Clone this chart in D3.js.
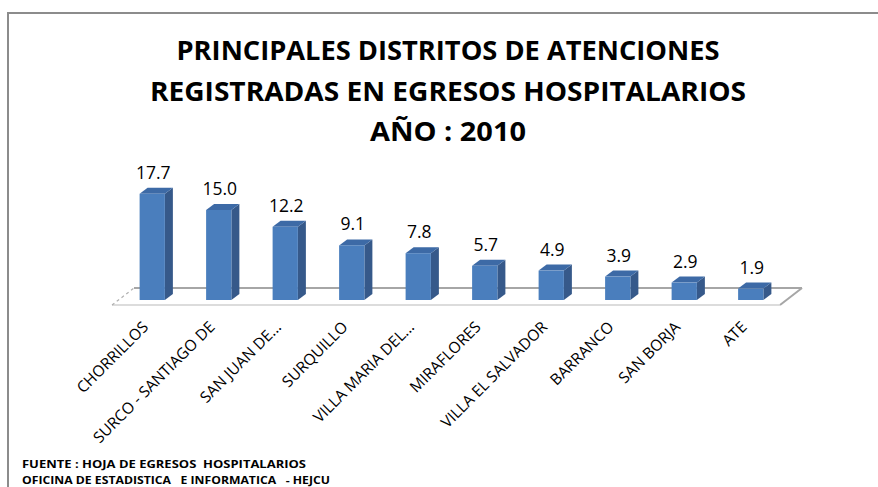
<!DOCTYPE html>
<html>
<head>
<meta charset="utf-8">
<script src="https://cdn.jsdelivr.net/npm/d3@7"></script>
<style>
  body { margin: 0; background: #fff; }
  svg { display: block; font-family: "Open Sans", "Liberation Sans", sans-serif; }
</style>
</head>
<body>
<div id="chart"></div>
<script>
// datos
const distritos = ['CHORRILLOS', 'SURCO - SANTIAGO DE', 'SAN JUAN DE...', 'SURQUILLO',
  'VILLA MARIA DEL...', 'MIRAFLORES', 'VILLA EL SALVADOR', 'BARRANCO', 'SAN BORJA', 'ATE'];
const porcentajes = [17.7, 15.0, 12.2, 9.1, 7.8, 5.7, 4.9, 3.9, 2.9, 1.9];
const titulo = ['PRINCIPALES DISTRITOS DE ATENCIONES', 'REGISTRADAS EN EGRESOS HOSPITALARIOS', 'AÑO : 2010'];
const fuente = ['FUENTE : HOJA DE EGRESOS  HOSPITALARIOS', 'OFICINA DE ESTADISTICA   E INFORMATICA   - HEJCU'];

const W = 878, H = 487;
const depth = { dx: 8, dy: -6 };
const floorDepth = { dx: 22, dy: -17 };

const svg = d3.select('#chart').append('svg')
  .attr('width', W).attr('height', H);

// marco
svg.append('path')
  .attr('d', `M8,${H} L8,13 L${W},13`)
  .attr('fill', 'none')
  .attr('stroke', '#8c8c8c')
  .attr('stroke-width', 2);

// titulo
const titleW = [543, 596, 156];
svg.append('g').selectAll('text')
  .data(titulo)
  .join('text')
  .attr('x', 448)
  .attr('y', (d, i) => 60 + i * 40.5)
  .attr('text-anchor', 'middle')
  .attr('font-size', 27)
  .attr('font-weight', 'bold')
  .attr('fill', '#000')
  .attr('textLength', (d, i) => titleW[i])
  .attr('lengthAdjust', 'spacingAndGlyphs')
  .text(d => d);

const x = d3.scaleBand()
  .domain(distritos)
  .range([119, 784])
  .paddingInner(0.62)
  .paddingOuter(0.31);

const y = d3.scaleLinear()
  .domain([0, 20])
  .range([300, 180]);

// piso
const fl = { x0: 112, x1: 780, y0: 305 };
const floorG = svg.append('g');
floorG.append('line')
  .attr('x1', fl.x0 + floorDepth.dx).attr('y1', fl.y0 + floorDepth.dy)
  .attr('x2', fl.x1 + floorDepth.dx).attr('y2', fl.y0 + floorDepth.dy)
  .attr('stroke', '#a6a6a6').attr('stroke-width', 2);
floorG.append('line')
  .attr('x1', fl.x1).attr('y1', fl.y0)
  .attr('x2', fl.x1 + floorDepth.dx).attr('y2', fl.y0 + floorDepth.dy)
  .attr('stroke', '#a6a6a6').attr('stroke-width', 2);
floorG.append('line')
  .attr('x1', fl.x0).attr('y1', fl.y0)
  .attr('x2', fl.x1).attr('y2', fl.y0)
  .attr('stroke', '#d0d0d0').attr('stroke-width', 1.5);
floorG.append('line')
  .attr('x1', fl.x0).attr('y1', fl.y0)
  .attr('x2', fl.x0 + floorDepth.dx).attr('y2', fl.y0 + floorDepth.dy)
  .attr('stroke', '#b0b0b0').attr('stroke-width', 1.2)
  .attr('stroke-dasharray', '3,3');

// barras 3D
const bw = x.bandwidth();
const bars = svg.append('g').selectAll('g')
  .data(porcentajes)
  .join('g');

bars.append('path')
  .attr('fill', '#36598a')
  .attr('d', (d, i) => {
    const x0 = x(distritos[i]) + bw, top = y(d), bot = y(0);
    return `M${x0},${top} L${x0 + depth.dx},${top + depth.dy} L${x0 + depth.dx},${bot + depth.dy} L${x0},${bot} Z`;
  });

bars.append('path')
  .attr('fill', '#3d6aa6')
  .attr('d', (d, i) => {
    const x0 = x(distritos[i]), top = y(d);
    return `M${x0},${top} L${x0 + depth.dx},${top + depth.dy} L${x0 + bw + depth.dx},${top + depth.dy} L${x0 + bw},${top} Z`;
  });

bars.append('rect')
  .attr('x', (d, i) => x(distritos[i]))
  .attr('y', d => y(d))
  .attr('width', bw)
  .attr('height', d => y(0) - y(d))
  .attr('fill', '#4a7ebd');

// etiquetas de valor
bars.append('text')
  .attr('x', (d, i) => x(distritos[i]) + bw / 2 + 1)
  .attr('y', d => y(d) - 15)
  .attr('text-anchor', 'middle')
  .attr('font-size', 17.5)
  .attr('fill', '#000')
  .text(d => d.toFixed(1));

// etiquetas de categoria
svg.append('g').selectAll('text')
  .data(distritos)
  .join('text')
  .attr('transform', d => `translate(${x(d) + bw / 2 - 3},${328}) rotate(-45)`)
  .attr('text-anchor', 'end')
  .attr('font-size', 15.5)
  .attr('fill', '#000')
  .text(d => d);

// fuente
const fuenteW = [284, 308];
svg.append('g').selectAll('text')
  .data(fuente)
  .join('text')
  .attr('x', 22)
  .attr('y', (d, i) => 468 + i * 15.5)
  .attr('font-size', 11)
  .attr('font-weight', 'bold')
  .attr('fill', '#000')
  .style('white-space', 'pre')
  .attr('textLength', (d, i) => fuenteW[i])
  .attr('lengthAdjust', 'spacingAndGlyphs')
  .text(d => d);
</script>
</body>
</html>
